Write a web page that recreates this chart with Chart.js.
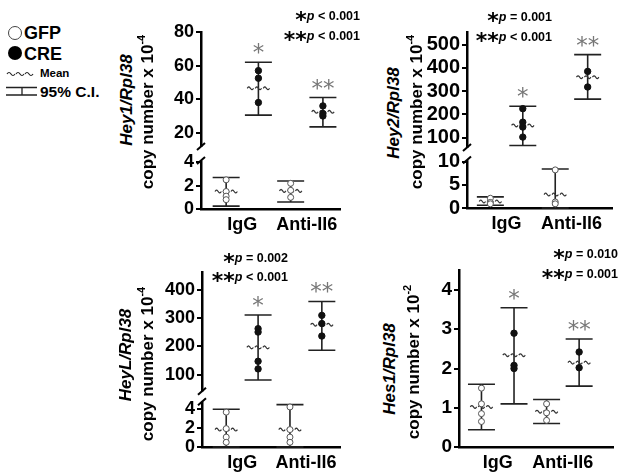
<!DOCTYPE html>
<html>
<head>
<meta charset="utf-8">
<script src="https://cdn.jsdelivr.net/npm/chart.js@4.4.1/dist/chart.umd.min.js"></script>
<style>
  body { margin: 0; background: #fff; }
  #wrap { position: relative; width: 624px; height: 476px; overflow: hidden; font-family: "Liberation Sans", Arial, sans-serif; color: #000; }
  canvas { position: absolute; }
  .yt { position: absolute; white-space: nowrap; transform: translate(-50%, -50%) rotate(-90deg); font-size: 17px; font-weight: bold; line-height: 20px; }
  .yt sup { font-size: 11px; line-height: 0; vertical-align: 8px; }
  .pv { position: absolute; white-space: nowrap; font-weight: bold; font-size: 12.5px; line-height: 14px; }
  .pv .s { font-family: "DejaVu Sans"; font-weight: bold; font-size: 22px; line-height: 0; vertical-align: -7px; }
  .lg { position: absolute; font-weight: bold; white-space: nowrap; line-height: 1; }
</style>
</head>
<body>
<div id="wrap">
  <!-- legend -->
  <div style="position:absolute;left:8px;top:26px;width:14px;height:14px;box-sizing:border-box;border:1.3px solid #444;border-radius:50%"></div>
  <div class="lg" style="left:24px;top:24px;font-size:18px">GFP</div>
  <div style="position:absolute;left:8px;top:46px;width:14px;height:14px;border-radius:50%;background:#000"></div>
  <div class="lg" style="left:24px;top:45px;font-size:18px">CRE</div>
  <svg style="position:absolute;left:0;top:0" width="40" height="100">
    <path d="M7 74 q2 -3 4 0 t4 0 M16 74 q2 -3 4 0 t4 0 M25 74 q2 -3 4 0 t4 0" fill="none" stroke="#222" stroke-width="1.2"/>
    <path d="M6 87.5 H37 M6 95 H37 M22 87.5 V95" fill="none" stroke="#222" stroke-width="1.3"/>
  </svg>
  <div class="lg" style="left:40px;top:68px;font-size:11.5px">Mean</div>
  <div class="lg" style="left:40px;top:84px;font-size:15.5px">95% C.I.</div>

  <canvas id="c1"></canvas>
  <canvas id="c2"></canvas>
  <canvas id="c3"></canvas>
  <canvas id="c4"></canvas>

  <!-- y axis titles -->
  <div class="yt" style="left:127px;top:100px"><i>Hey1/Rpl38</i></div>
  <div class="yt" style="left:148px;top:112px">copy number x 10<sup>-4</sup></div>
  <div class="yt" style="left:394px;top:113px"><i>Hey2/Rpl38</i></div>
  <div class="yt" style="left:417px;top:112px">copy number x 10<sup>-4</sup></div>
  <div class="yt" style="left:126px;top:355px"><i>HeyL/Rpl38</i></div>
  <div class="yt" style="left:148px;top:364px">copy number x 10<sup>-4</sup></div>
  <div class="yt" style="left:390px;top:369px"><i>Hes1/Rpl38</i></div>
  <div class="yt" style="left:414px;top:362px">copy number x 10<sup>-2</sup></div>
</div>
<script>
// groups: GFP+IgG, CRE+IgG, GFP+Anti-Il6, CRE+Anti-Il6
var xLabels = ['IgG', 'Anti-Il6'];
var starMarks = ['*', '**'];

// Hey1/Rpl38 (x 10^-4)
var hey1Points = [[2.5, 1.5, 1.1, 0.8], [57, 52.5, 38], [2.2, 1.6, 1.0], [36, 31.5, 30]];
var hey1Mean = [1.5, 46.5, 1.55, 32.5];
var hey1Low = [0.25, 30.5, 0.6, 23.5];
var hey1High = [2.7, 62, 2.4, 41];
var hey1Stars = ['', '*', '', '**'];
var hey1P = ['p < 0.001', 'p < 0.001'];
var hey1TicksHi = [20, 40, 60, 80];
var hey1TicksLo = [0, 2, 4];

// Hey2/Rpl38 (x 10^-4)
var hey2Points = [[2.1, 1.2, 0.9], [225, 167, 146, 103], [8.2, 1.3, 0.9], [385, 318]];
var hey2Mean = [1.4, 153, 2.9, 360];
var hey2Low = [0.6, 67, 0, 266];
var hey2High = [2.4, 235, 8.4, 457];
var hey2Stars = ['', '*', '', '**'];
var hey2P = ['p = 0.001', 'p < 0.001'];
var hey2TicksHi = [100, 200, 300, 400, 500];
var hey2TicksLo = [0, 5, 10];

// HeyL/Rpl38 (x 10^-4)
var heyLPoints = [[3.7, 1.95, 1.05, 0.5], [262, 250, 147, 120], [4.25, 1.85, 1.05, 0.5], [309, 280, 236]];
var heyLMean = [1.85, 196, 1.85, 276];
var heyLLow = [0, 81, 0, 186];
var heyLHigh = [4.0, 310, 4.5, 358];
var heyLStars = ['', '*', '', '**'];
var heyLP = ['p = 0.002', 'p < 0.001'];
var heyLTicksHi = [100, 200, 300, 400];
var heyLTicksLo = [0, 2, 4];

// Hes1/Rpl38 (x 10^-2)
var hes1Points = [[1.5, 1.1, 0.85, 0.65], [2.9, 2.08, 2.0], [1.1, 0.87, 0.68], [2.42, 2.02]];
var hes1Mean = [1.02, 2.34, 0.9, 2.15];
var hes1Low = [0.44, 1.1, 0.6, 1.55];
var hes1High = [1.6, 3.55, 1.21, 2.75];
var hes1Stars = ['', '*', '', '**'];
var hes1P = ['p = 0.010', 'p = 0.001'];
var hes1Ticks = [0, 1, 2, 3, 4];

Chart.defaults.font.family = '"Liberation Sans", Arial, sans-serif';

function wave(ctx, cx, cy, half) {
	var seg = half * 2 / 3;
	for (var k = 0; k < 3; k++) {
		var x0 = cx - half + k * seg + 0.8, x1 = x0 + seg - 1.6;
		ctx.beginPath();
		for (var t = 0; t <= 12; t++) {
			var x = x0 + (x1 - x0) * t / 12, y = cy - 1.4 * Math.sin(Math.PI * 2 * t / 12);
			if (t == 0) ctx.moveTo(x, y); else ctx.lineTo(x, y);
		}
		ctx.stroke();
	}
}

var dotPlugin = {
	id: 'dot',
	beforeDatasetsDraw: function(chart, args, opts) {
		var ctx = chart.ctx, xs = chart.scales.x;
		opts.groups.forEach(function(g) {
			var ys = chart.scales[g.axis];
			var x = xs.getPixelForValue(g.x);
			var yH = ys.getPixelForValue(g.hi), yL = ys.getPixelForValue(g.lo), yM = ys.getPixelForValue(g.mean);
			ctx.save();
			ctx.strokeStyle = '#222';
			ctx.lineWidth = 1.6;
			ctx.beginPath();
			ctx.moveTo(x, yH); ctx.lineTo(x, yL);
			ctx.moveTo(x - 13.5, yH); ctx.lineTo(x + 13.5, yH);
			ctx.moveTo(x - 13.5, yL); ctx.lineTo(x + 13.5, yL);
			ctx.stroke();
			ctx.strokeStyle = '#333';
			ctx.lineWidth = 1.2;
			wave(ctx, x, yM, 12);
			if (g.star) {
				ctx.fillStyle = '#777';
				ctx.font = '23px "DejaVu Sans"';
				ctx.textAlign = 'center';
				ctx.textBaseline = 'alphabetic';
				ctx.fillText(g.star, x, yH - 2);
			}
			ctx.restore();
		});
	},
	afterDraw: function(chart, args, opts) {
		if (opts.resume == null) return;
		var ctx = chart.ctx, lo = chart.scales.yLo, hi = chart.scales.yHi;
		var ax = chart.chartArea.left;
		var y1 = hi.bottom, y2 = lo.getPixelForValue(opts.resume);
		ctx.save();
		ctx.fillStyle = '#fff';
		ctx.fillRect(ax - 2.5, y1, 5, y2 - y1);
		ctx.strokeStyle = '#000';
		ctx.lineWidth = 2;
		[y1, y2].forEach(function(y) {
			ctx.beginPath();
			ctx.moveTo(ax - 4, y + 3.5);
			ctx.lineTo(ax + 4, y - 3.5);
			ctx.stroke();
		});
		ctx.restore();
	}
};

function yScale(s, W, size) {
	var o = {
		type: 'linear', position: 'left', min: s.min, max: s.max,
		grid: { display: true, drawOnChartArea: false, drawTicks: true, tickLength: 5, color: '#000', lineWidth: 2 },
		border: { display: true, color: '#000', width: 2.5 },
		ticks: { color: '#000', padding: 2, autoSkip: false, font: { size: size, weight: 'bold' } },
		afterBuildTicks: function(sc) { sc.ticks = s.ticks.map(function(v) { return { value: v }; }); },
		afterFit: function(sc) { sc.width = W; }
	};
	if (s.weight) { o.stack = 'brk'; o.stackWeight = s.weight; }
	return o;
}

function makePanel(p) {
	var cv = document.getElementById(p.id);
	var W = 46, H = 26, padT = 20, padB = 4, padL = 4, padR = 6;
	var left = p.area.l - W - padL, top = p.area.t - padT;
	cv.style.left = left + 'px';
	cv.style.top = top + 'px';
	cv.width = Math.round(p.area.r + padR - left);
	cv.height = Math.round(p.area.b + H + padB - top);

	var broken = !!p.upper;
	var groups = p.points.map(function(v, i) {
		return { x: i + 1, axis: broken && i % 2 == 1 ? 'yHi' : 'yLo', mean: p.mean[i], lo: p.low[i], hi: p.high[i], star: p.stars[i] };
	});
	var gfp = [], cre = [];
	p.points.forEach(function(vals, i) {
		vals.forEach(function(v) { (i % 2 == 0 ? gfp : cre).push({ x: i + 1, y: v }); });
	});

	var scales = {
		x: {
			type: 'linear', position: 'bottom', min: p.xr[0], max: p.xr[1],
			grid: { display: false },
			border: { display: true, color: '#000', width: 2.5 },
			ticks: { color: '#000', padding: -3, maxRotation: 0, autoSkip: false, font: { size: 18, weight: 'bold' },
				callback: function(v, i) { return xLabels[i]; } },
			afterBuildTicks: function(sc) { sc.ticks = [{ value: 1.5 }, { value: 3.5 }]; },
			afterFit: function(sc) { sc.height = H; }
		}
	};
	scales.yLo = yScale(p.lower, W, p.tickSize);
	if (broken) scales.yHi = yScale(p.upper, W, p.tickSize);

	return new Chart(cv, {
		type: 'scatter',
		data: {
			datasets: [
				{ label: 'GFP', data: gfp, yAxisID: 'yLo', pointRadius: 3, pointBackgroundColor: '#fff', pointBorderColor: '#555', pointBorderWidth: 1 },
				{ label: 'CRE', data: cre, yAxisID: broken ? 'yHi' : 'yLo', pointRadius: 3.2, pointBackgroundColor: '#111', pointBorderColor: '#111', pointBorderWidth: 1 }
			]
		},
		options: {
			responsive: false,
			animation: false,
			layout: { padding: { left: padL, right: padR, top: padT, bottom: padB } },
			scales: scales,
			plugins: { legend: { display: false }, tooltip: { enabled: false }, dot: { groups: groups, resume: p.resume } }
		},
		plugins: [dotPlugin]
	});
}

function pLabels(texts, right, baselines) {
	var wrap = document.getElementById('wrap');
	texts.forEach(function(t, i) {
		var d = document.createElement('div');
		d.className = 'pv';
		d.style.right = (624 - right) + 'px';
		d.style.top = (baselines[i] - 11.2) + 'px';
		d.innerHTML = '<span class="s">' + starMarks[i] + '</span><i>p</i>' + t.slice(1).replace('<', '&lt;');
		wrap.appendChild(d);
	});
}

makePanel({ id: 'c1', points: hey1Points, mean: hey1Mean, low: hey1Low, high: hey1High, stars: hey1Stars,
	area: { l: 200.7, r: 340, t: 31.7, b: 208.3 }, xr: [0.22, 4.53], tickSize: 18,
	upper: { min: 11.8, max: 80, ticks: hey1TicksHi, weight: 114.3 },
	lower: { min: 0, max: 5.35, ticks: hey1TicksLo, weight: 62.3 }, resume: 4.15 });
makePanel({ id: 'c2', points: hey2Points, mean: hey2Mean, low: hey2Low, high: hey2High, stars: hey2Stars,
	area: { l: 466.7, r: 611.7, t: 31.7, b: 207.3 }, xr: [0.28, 4.75], tickSize: 20,
	upper: { min: 58, max: 554, ticks: hey2TicksHi, weight: 115.3 },
	lower: { min: 0, max: 13.0, ticks: hey2TicksLo, weight: 60.3 }, resume: 10.3 });
makePanel({ id: 'c3', points: heyLPoints, mean: heyLMean, low: heyLLow, high: heyLHigh, stars: heyLStars,
	area: { l: 201.7, r: 340, t: 271.7, b: 446.7 }, xr: [0.24, 4.57], tickSize: 18,
	upper: { min: 41, max: 462, ticks: heyLTicksHi, weight: 119.3 },
	lower: { min: 0, max: 5.91, ticks: heyLTicksLo, weight: 55.7 }, resume: 4.8 });
makePanel({ id: 'c4', points: hes1Points, mean: hes1Mean, low: hes1Low, high: hes1High, stars: hes1Stars,
	area: { l: 459.3, r: 613, t: 270, b: 446.7 }, xr: [0.31, 5.04], tickSize: 19,
	lower: { min: 0, max: 4.51, ticks: hes1Ticks } });

pLabels(hey1P, 360, [20, 40]);
pLabels(hey2P, 552, [21, 41]);
pLabels(heyLP, 288, [262, 281]);
pLabels(hes1P, 618, [258, 278]);
</script>
</body>
</html>
